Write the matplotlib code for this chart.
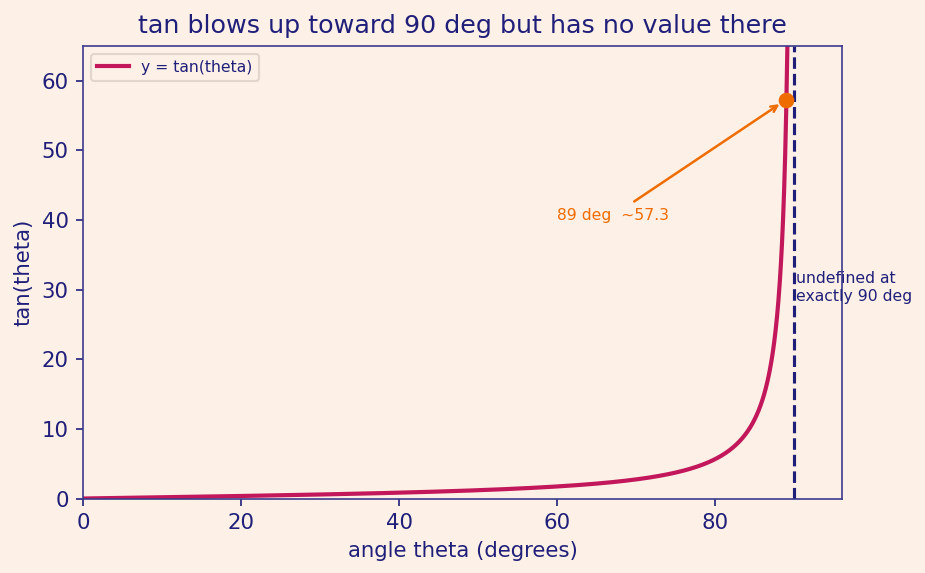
import numpy as np
import matplotlib.pyplot as plt

# curve: y = tan(theta) sampled up to just below 90 degrees
theta_deg = np.linspace(0, 89.6, 2000)
tan_vals = np.tan(np.radians(theta_deg))

# highlighted point
mark_x = 89
mark_y = 57.29
asymptote_x = 90

bg = '#fdf1e7'
navy = '#1f1f7a'
curve_color = '#c2185b'
orange = '#ef6c00'

plt.rcParams['font.family'] = 'DejaVu Sans'
fig, ax = plt.subplots(figsize=(925 / 150, 573 / 150), dpi=150)
fig.patch.set_facecolor(bg)
ax.set_facecolor(bg)

ax.plot(theta_deg, tan_vals, color=curve_color, linewidth=2.0, label='y = tan(theta)')
ax.axvline(asymptote_x, color=navy, linestyle='--', linewidth=1.5)
ax.plot(mark_x, mark_y, 'o', color=orange, markersize=6.5, zorder=5)

ax.annotate('89 deg  ~57.3', xy=(mark_x, mark_y), xytext=(60, 40),
            color=orange, fontsize=7.5,
            arrowprops=dict(arrowstyle='->', color=orange, lw=1.2, shrinkB=4))
ax.text(asymptote_x + 0.2, 28, 'undefined at\nexactly 90 deg', color=navy, fontsize=7.5,
        ha='left', va='bottom')

ax.set_xlim(0, 96)
ax.set_ylim(0, 65)
ax.set_title('tan blows up toward 90 deg but has no value there', color=navy, fontsize=12.2)
ax.set_xlabel('angle theta (degrees)', color=navy, fontsize=10.2)
ax.set_ylabel('tan(theta)', color=navy, fontsize=10.2)
ax.tick_params(colors=navy, labelsize=10.2)
for s in ax.spines.values():
    s.set_color('#3b3b8c')

leg = ax.legend(loc='upper left', fontsize=7.5, facecolor=bg, edgecolor='#dccfc4')
for t in leg.get_texts():
    t.set_color(navy)

plt.subplots_adjust(left=0.09, right=0.91, top=0.92, bottom=0.13)
plt.savefig('out.png', dpi=150, facecolor=bg)
